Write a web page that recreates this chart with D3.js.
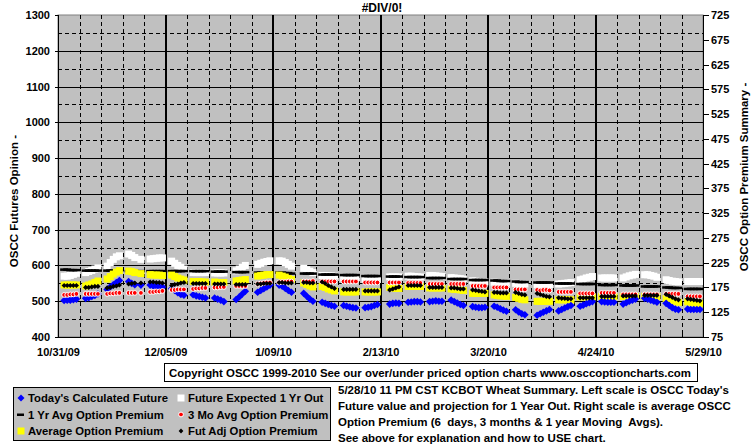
<!DOCTYPE html>
<html><head><meta charset="utf-8">
<script src="https://cdn.jsdelivr.net/npm/d3@7"></script>
<style>
body{margin:0;background:#fff;}
svg{display:block;}
text{font-family:"Liberation Sans",Arial,sans-serif;font-weight:bold;fill:#000;}
</style></head><body>
<svg id="c" width="755" height="446"></svg>
<script>
const chartTitle = "#DIV/0!";
const leftTitle = "OSCC Futures Opinion -";
const rightTitle = "OSCC Option Premium Summary -";
const copyrightText = "Copyright OSCC 1999-2010 See our over/under priced option charts www.osccoptioncharts.com";
const noteLines = [
  "5/28/10 11 PM CST KCBOT Wheat Summary. Left scale is OSCC Today's",
  "Future value and projection for 1 Year Out. Right scale is average OSCC",
  "Option Premium (6  days, 3 months & 1 year Moving  Avgs).",
  "See above for explanation and how to USE chart."
];
const xTickLabels = ["10/31/09","12/05/09","1/09/10","2/13/10","3/20/10","4/24/10","5/29/10"];
const leftTicks = [400,500,600,700,800,900,1000,1100,1200,1300];
const rightTicks = [75,125,175,225,275,325,375,425,475,525,575,625,675,725];

const dates = [
"11/02/09","11/03/09","11/04/09","11/05/09","11/06/09",
"11/09/09","11/10/09","11/11/09","11/12/09","11/13/09",
"11/16/09","11/17/09","11/18/09","11/19/09","11/20/09",
"11/23/09","11/24/09","11/25/09","11/27/09",
"11/30/09","12/01/09","12/02/09","12/03/09","12/04/09",
"12/07/09","12/08/09","12/09/09","12/10/09","12/11/09",
"12/14/09","12/15/09","12/16/09","12/17/09","12/18/09",
"12/21/09","12/22/09","12/23/09","12/24/09",
"12/28/09","12/29/09","12/30/09","12/31/09",
"01/04/10","01/05/10","01/06/10","01/07/10","01/08/10",
"01/11/10","01/12/10","01/13/10","01/14/10","01/15/10",
"01/19/10","01/20/10","01/21/10","01/22/10",
"01/25/10","01/26/10","01/27/10","01/28/10","01/29/10",
"02/01/10","02/02/10","02/03/10","02/04/10","02/05/10",
"02/08/10","02/09/10","02/10/10","02/11/10","02/12/10",
"02/16/10","02/17/10","02/18/10","02/19/10",
"02/22/10","02/23/10","02/24/10","02/25/10","02/26/10",
"03/01/10","03/02/10","03/03/10","03/04/10","03/05/10",
"03/08/10","03/09/10","03/10/10","03/11/10","03/12/10",
"03/15/10","03/16/10","03/17/10","03/18/10","03/19/10",
"03/22/10","03/23/10","03/24/10","03/25/10","03/26/10",
"03/29/10","03/30/10","03/31/10","04/01/10",
"04/05/10","04/06/10","04/07/10","04/08/10","04/09/10",
"04/12/10","04/13/10","04/14/10","04/15/10","04/16/10",
"04/19/10","04/20/10","04/21/10","04/22/10","04/23/10",
"04/26/10","04/27/10","04/28/10","04/29/10","04/30/10",
"05/03/10","05/04/10","05/05/10","05/06/10","05/07/10",
"05/10/10","05/11/10","05/12/10","05/13/10","05/14/10",
"05/17/10","05/18/10","05/19/10","05/20/10","05/21/10",
"05/24/10","05/25/10","05/26/10","05/27/10","05/28/10"];

// Left scale series
const todaysFuture = [
502,503,503,504,506,
508,510,513,516,520,
533,540,546,552,558,
555,550,546,545,
545,543,542,540,540,
535,530,524,519,517,
518,515,513,511,509,
509,506,503,499,
505,512,520,528,
525,530,535,540,545,
545,542,536,530,525,
522,514,506,500,
497,494,491,488,486,
488,486,484,482,481,
482,483,485,488,491,
492,494,495,494,
497,498,499,499,498,
499,500,501,500,500,
503,499,495,491,488,
485,483,482,482,483,
486,483,479,475,472,
476,470,465,462,
461,465,469,473,477,
473,477,481,485,488,
486,489,493,496,499,
499,498,497,497,497,
492,496,500,503,506,
508,506,503,500,497,
494,488,482,478,476,
478,477,477,477,477];

const futureExpected1Yr = [
570,570,572,575,578,
580,583,586,590,593,
598,608,617,624,627,
632,628,622,617,
618,619,620,621,621,
612,606,600,595,590,
580,580,580,580,580,
579,579,579,579,
585,590,595,600,
603,606,609,611,613,
613,612,608,603,598,
592,588,584,580,
572,572,571,571,570,
565,565,565,565,565,
561,561,561,561,561,
568,568,568,568,
570,570,569,568,568,
572,572,571,570,569,
566,565,564,563,562,
557,556,555,555,554,
553,552,552,551,551,
550,549,549,548,
546,546,546,546,546,
548,549,550,551,552,
560,562,565,567,569,
565,565,565,565,565,
565,568,571,573,575,
574,574,572,570,567,
560,558,556,555,554,
555,555,555,555,555];

// Right scale series
const oneYrAvgPremium = [
211,211,210,210,210,
209,209,209,209,209,
209,209,209,209,209,
208,208,208,208,
208,208,208,208,208,
208,208,208,208,208,
208,208,208,208,208,
207,207,207,207,
206,206,206,206,
205,205,205,205,205,
205,205,204,204,203,
203,203,203,203,
201,201,201,201,201,
200,200,200,200,200,
198,198,198,198,198,
197,197,197,197,
196,196,196,196,196,
194,194,194,194,194,
192,192,192,192,192,
190,190,190,190,190,
189,189,188,188,188,
187,186,186,186,
185,185,185,185,185,
183,183,183,183,183,
182,182,182,182,182,
180,180,180,180,180,
179,179,179,179,179,
177,177,177,177,177,
175,175,174,174,174,
172,172,172,172,172];

const threeMoAvgPremium = [
160,160,161,161,162,
162,162,162,162,162,
162,163,163,164,164,
164,164,164,164,
166,166,167,167,168,
170,170,171,171,171,
172,173,173,174,174,
175,175,176,176,
178,178,178,178,
182,183,184,185,185,
185,186,186,187,187,
187,187,187,188,
187,187,187,187,187,
187,187,187,187,187,
185,185,185,185,185,
185,185,185,185,
184,184,184,184,184,
182,182,182,182,182,
182,182,182,182,182,
178,178,178,178,178,
175,175,175,175,175,
171,171,171,171,
170,169,170,170,169,
166,166,166,166,166,
163,163,163,163,163,
164,164,164,164,164,
161,161,161,161,161,
161,161,161,161,161,
162,162,162,162,162,
157,157,157,157,157];

const avgOptionPremium = [
180,180,180,180,180,
178,180,182,185,188,
192,197,202,206,209,
208,207,205,203,
201,200,200,200,199,
200,197,194,192,190,
187,187,187,186,186,
186,185,185,185,
188,189,190,191,
198,199,200,201,201,
200,198,196,193,191,
184,181,178,176,
177,175,172,170,168,
166,166,166,166,166,
166,166,166,166,166,
175,174,173,173,
177,177,177,177,177,
174,174,174,174,174,
172,171,171,170,169,
163,163,163,163,163,
160,159,158,158,157,
155,153,151,150,
147,147,147,147,147,
150,150,150,150,150,
156,156,156,156,156,
157,157,157,157,157,
157,157,157,157,157,
157,157,157,157,157,
153,151,149,147,145,
146,145,144,144,143];

const futAdjOptionPremium = [
179,179,179,179,179,
175,175,176,177,177,
174,175,177,178,180,
182,183,184,184,
186,186,185,185,184,
179,181,182,184,185,
183,183,183,183,183,
182,182,182,182,
181,181,181,181,
182,182,183,183,183,
185,185,184,184,184,
185,185,184,184,
186,183,179,176,173,
171,171,171,171,171,
168,168,168,168,168,
170,172,174,176,
179,179,179,179,179,
175,175,175,175,175,
174,174,173,172,172,
170,169,168,167,166,
165,165,164,164,164,
165,163,161,160,
163,161,159,157,156,
154,153,153,152,152,
154,154,154,154,154,
157,157,157,157,157,
158,158,158,158,158,
159,159,159,159,159,
161,158,155,152,150,
152,151,150,149,148];

const legendItems = [
  {label:"Today's Calculated Future", key:"blue"},
  {label:"Future Expected 1 Yr Out", key:"white"},
  {label:"1 Yr Avg Option Premium", key:"dash"},
  {label:"3 Mo Avg Option Premium", key:"red"},
  {label:"Average Option Premium", key:"yellow"},
  {label:"Fut Adj Option Premium", key:"black"}
];

const svg = d3.select("#c");
const parse = d3.timeParse("%m/%d/%y");
const X0 = 58, X1 = 703, Y0 = 15, Y1 = 337;
const tickDates = xTickLabels.map(s => parse(s));
const x = d3.scaleTime().domain([tickDates[0], tickDates[tickDates.length-1]]).range([X0, X1]);
const yL = d3.scaleLinear().domain([400,1300]).range([Y1, Y0]);
const yR = d3.scaleLinear().domain([75,725]).range([Y1, Y0]);
const pts = dates.map(parse);

// plot background
svg.append("rect").attr("x",X0).attr("y",Y0).attr("width",X1-X0).attr("height",Y1-Y0)
  .attr("fill","#C0C0C0").attr("stroke","#808080").attr("stroke-width",1);

const grid = svg.append("g").attr("shape-rendering","crispEdges");
const hMajor = leftTicks.slice(1,-1);
const hMinor = leftTicks.slice(0,-1).map(v => v + 50);
grid.selectAll(".hmin").data(hMinor).enter().append("line")
  .attr("x1",X0).attr("x2",X1).attr("y1",d=>Math.round(yL(d))+0.5).attr("y2",d=>Math.round(yL(d))+0.5)
  .attr("stroke","#000").attr("stroke-dasharray","4,3");
grid.selectAll(".hmaj").data(hMajor).enter().append("line")
  .attr("x1",X0).attr("x2",X1).attr("y1",d=>Math.round(yL(d))+0.5).attr("y2",d=>Math.round(yL(d))+0.5)
  .attr("stroke","#000");
const weekly = d3.timeSaturday.range(d3.timeDay.offset(tickDates[0],1), tickDates[tickDates.length-1])
  .filter(d => !tickDates.some(t => +t === +d));
grid.selectAll(".vmin").data(weekly).enter().append("line")
  .attr("x1",d=>Math.round(x(d))+0.5).attr("x2",d=>Math.round(x(d))+0.5).attr("y1",Y0).attr("y2",Y1)
  .attr("stroke","#000").attr("stroke-dasharray","4,3");
grid.selectAll(".vmaj").data(tickDates.slice(1,-1)).enter().append("line")
  .attr("x1",d=>Math.round(x(d))).attr("x2",d=>Math.round(x(d))).attr("y1",Y0).attr("y2",Y1)
  .attr("stroke","#000").attr("stroke-width",2);
grid.selectAll(".btick").data(weekly).enter().append("line")
  .attr("x1",d=>Math.round(x(d))+0.5).attr("x2",d=>Math.round(x(d))+0.5).attr("y1",Y1-3).attr("y2",Y1)
  .attr("stroke","#000");

// series
const g = svg.append("g");
function sq(s){ return `M${-s/2},${-s/2}h${s}v${s}h${-s}Z`; }
function dia(r){ return `M0,${-r}L${r},0L0,${r}L${-r},0Z`; }

g.append("g").selectAll("path").data(futureExpected1Yr).enter().append("path")
  .attr("d",sq(7)).attr("fill","#fff")
  .attr("transform",(d,i)=>`translate(${x(pts[i])},${yL(d)})`);
g.append("g").selectAll("rect").data(oneYrAvgPremium).enter().append("rect")
  .attr("x",(d,i)=>x(pts[i])-4).attr("y",d=>yR(d)-1.25).attr("width",8).attr("height",2.5).attr("fill","#000");
g.append("g").selectAll("path").data(avgOptionPremium).enter().append("path")
  .attr("d",sq(7)).attr("fill","#FFFF00")
  .attr("transform",(d,i)=>`translate(${x(pts[i])},${yR(d)})`);
g.append("g").selectAll("path").data(todaysFuture).enter().append("path")
  .attr("d",dia(3.8)).attr("fill","#0000FF")
  .attr("transform",(d,i)=>`translate(${x(pts[i])},${yL(d)})`);
g.append("g").selectAll("circle").data(threeMoAvgPremium).enter().append("circle")
  .attr("cx",(d,i)=>x(pts[i])).attr("cy",d=>yR(d)).attr("r",2.4)
  .attr("fill","#FF0000").attr("stroke","#fff").attr("stroke-width",1);
g.append("g").selectAll("path").data(futAdjOptionPremium).enter().append("path")
  .attr("d",dia(2.6)).attr("fill","#000")
  .attr("transform",(d,i)=>`translate(${x(pts[i])},${yR(d)})`);

// axes lines
const ax = svg.append("g").attr("shape-rendering","crispEdges");
ax.append("line").attr("x1",X0+0.5).attr("x2",X0+0.5).attr("y1",Y0).attr("y2",Y1+1).attr("stroke","#000");
ax.append("line").attr("x1",X0).attr("x2",X1+1).attr("y1",Y1+0.5).attr("y2",Y1+0.5).attr("stroke","#000");
ax.append("line").attr("x1",X1+0.5).attr("x2",X1+0.5).attr("y1",Y0).attr("y2",Y1+1).attr("stroke","#000");

const leftAxis = d3.axisLeft(yL).tickValues(leftTicks).tickSize(3).tickPadding(5).tickFormat(d3.format("d"));
const la = svg.append("g").attr("transform",`translate(${X0},0)`).call(leftAxis);
const rightAxis = d3.axisRight(yR).tickValues(rightTicks).tickSize(5).tickPadding(2).tickFormat(d3.format("d"));
const ra = svg.append("g").attr("transform",`translate(${X1+1},0)`).call(rightAxis);
const bottomAxis = d3.axisBottom(x).tickValues(tickDates).tickSize(0).tickPadding(11).tickFormat((d,i)=>xTickLabels[i]);
const ba = svg.append("g").attr("transform",`translate(0,${Y1})`).call(bottomAxis);
[la,ra,ba].forEach(a=>{
  a.select(".domain").remove();
  a.selectAll("line").attr("stroke","#000").attr("shape-rendering","crispEdges");
  a.selectAll("text").attr("font-family","Liberation Sans, Arial, sans-serif").attr("font-weight","bold").attr("font-size","11px").attr("fill","#000");
});

// titles
svg.append("text").attr("x",382).attr("y",12).attr("text-anchor","middle").attr("font-size","12px").text(chartTitle);
svg.append("text").attr("transform","translate(18,201) rotate(-90)").attr("text-anchor","middle").attr("font-size","11.5px").text(leftTitle);
svg.append("text").attr("transform","translate(748,177) rotate(-90)").attr("text-anchor","middle").attr("font-size","11.5px").text(rightTitle);

// copyright box
svg.append("rect").attr("x",164.5).attr("y",363.5).attr("width",533).attr("height",18).attr("fill","#fff").attr("stroke","#000");
svg.append("text").attr("x",169).attr("y",377).attr("font-size","11.5px")
  .attr("textLength",522).attr("lengthAdjust","spacingAndGlyphs").text(copyrightText);

// note lines
svg.append("g").selectAll("text").data(noteLines).enter().append("text")
  .attr("x",338).attr("y",(d,i)=>394+i*16).attr("font-size","11.5px").style("white-space","pre").text(d=>d);

// legend
svg.append("rect").attr("x",13.5).attr("y",387.5).attr("width",317).attr("height",53).attr("fill","#C0C0C0").attr("stroke","#000");
const lg = svg.append("g").selectAll("g").data(legendItems).enter().append("g")
  .attr("transform",(d,i)=>`translate(${i%2===0?21:181},${398+Math.floor(i/2)*16.5})`);
lg.each(function(d){
  const s = d3.select(this);
  if(d.key==="blue") s.append("path").attr("d",dia(3.5)).attr("fill","#0000FF");
  if(d.key==="white") s.append("path").attr("d",sq(7)).attr("fill","#fff");
  if(d.key==="dash") s.append("rect").attr("x",-4).attr("y",-1).attr("width",7).attr("height",2.5).attr("fill","#000");
  if(d.key==="red") s.append("circle").attr("r",2.4).attr("fill","#FF0000").attr("stroke","#fff");
  if(d.key==="yellow") s.append("path").attr("d",sq(7)).attr("fill","#FFFF00");
  if(d.key==="black") s.append("path").attr("d",dia(2.4)).attr("fill","#000");
});
lg.append("text").attr("x",7).attr("y",4).attr("font-size","11.3px").text(d=>d.label);
</script>
</body></html>
